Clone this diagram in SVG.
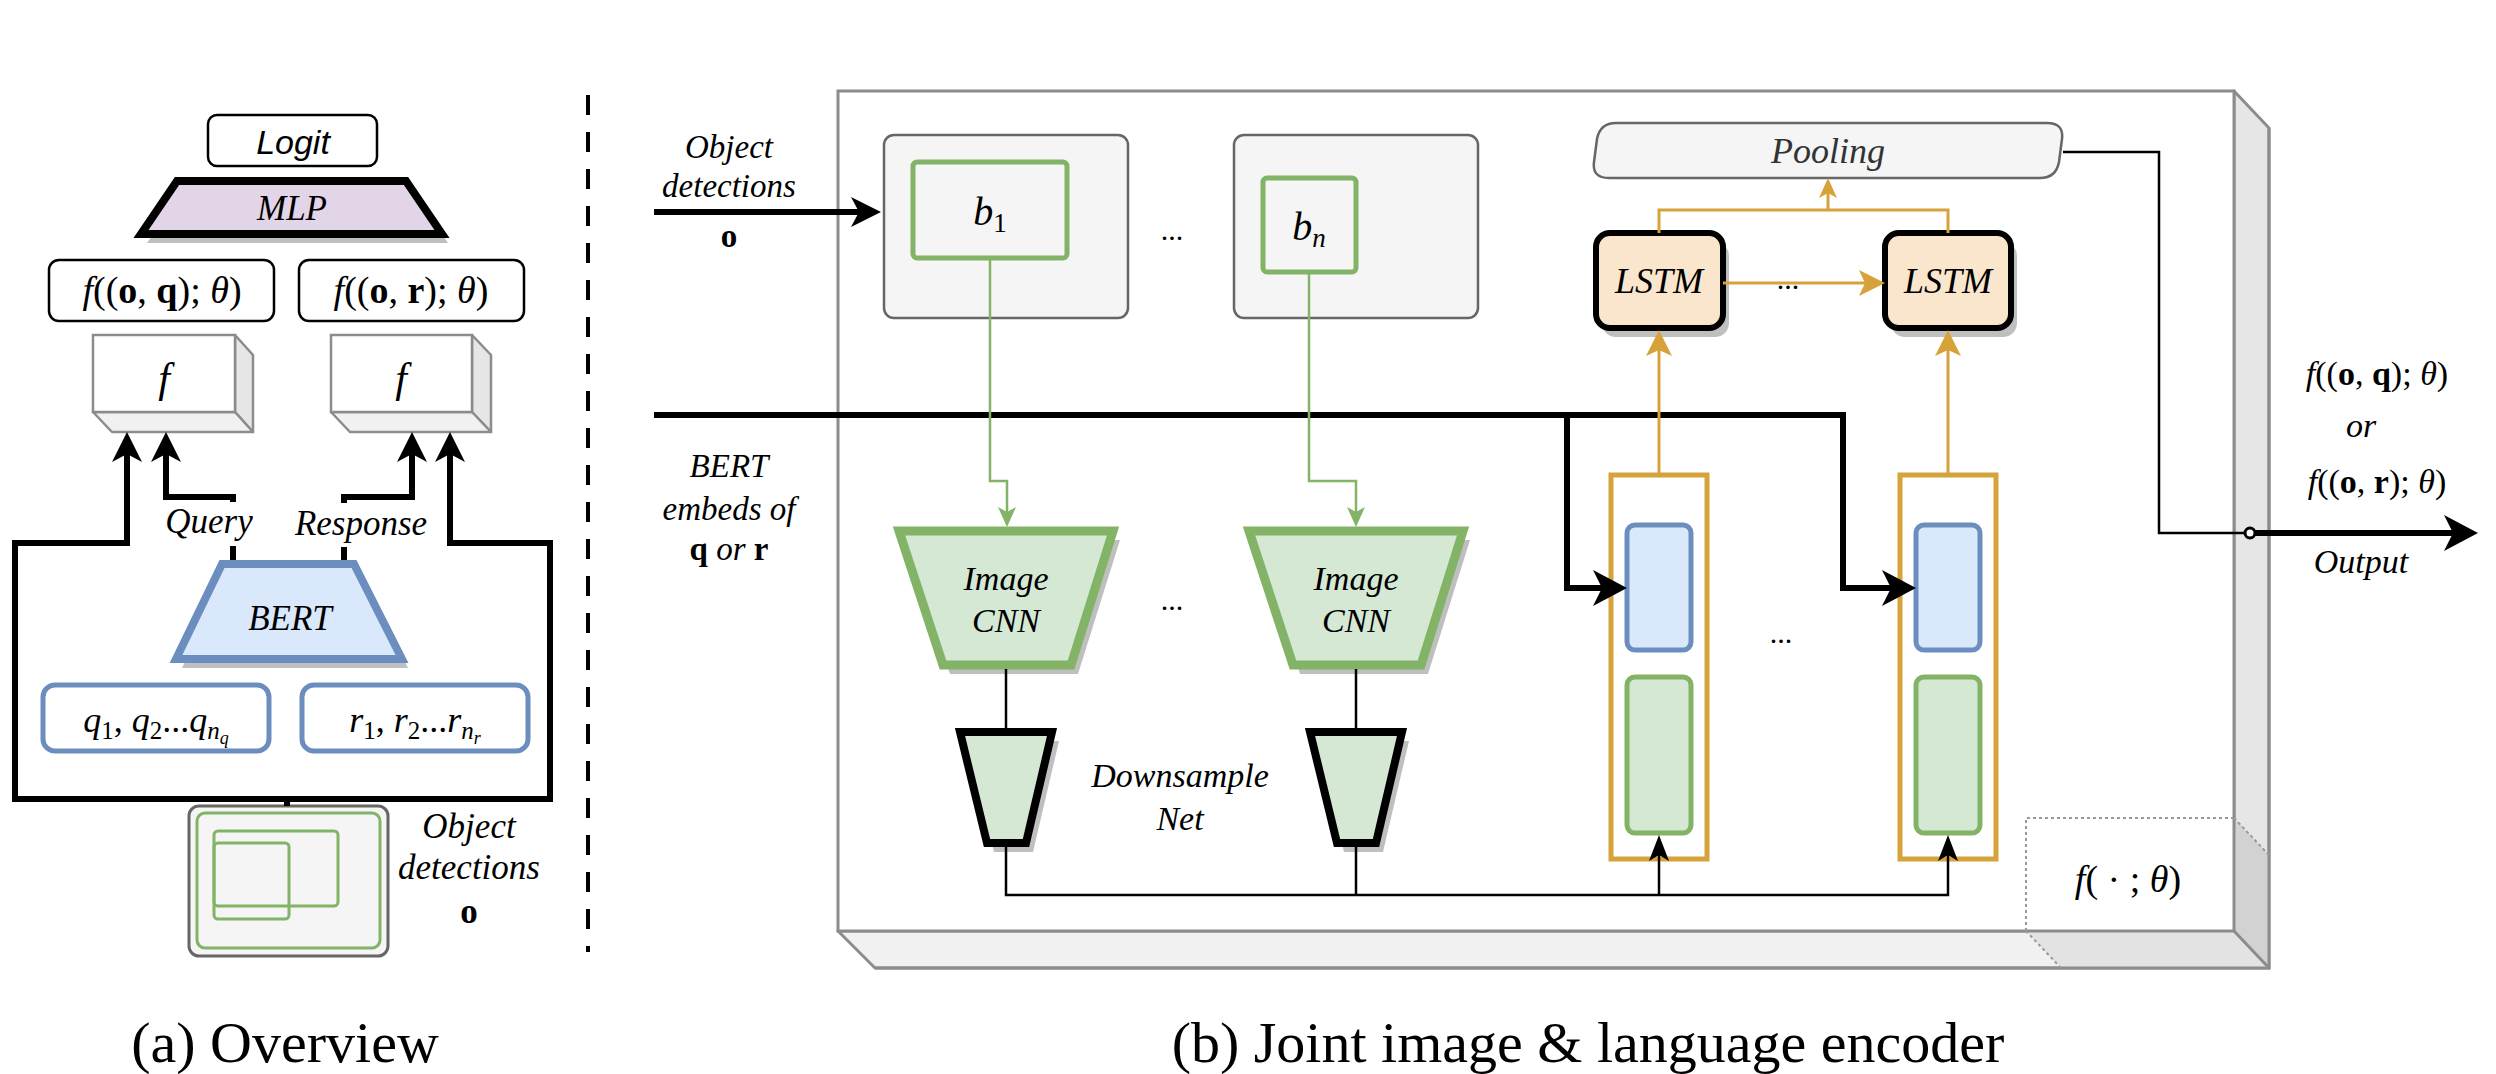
<svg xmlns="http://www.w3.org/2000/svg" width="2496" height="1074" viewBox="0 0 2496 1074">
<style>
.s{font-family:"Liberation Serif","Times New Roman",serif;fill:#000}
.m{text-anchor:middle}
.i{font-style:italic}
.b{font-weight:bold}
.sans{font-family:"Liberation Sans",Arial,sans-serif;font-style:italic;text-anchor:middle}
.box{fill:#fff;stroke:#000;stroke-width:2.5}
.cubeF{fill:#fff;stroke:#8c8c8c;stroke-width:2.5}
.cubeS{fill:#e6e6e6;stroke:#8c8c8c;stroke-width:2.5;stroke-linejoin:round}
.cubeB{fill:#f1f1f1;stroke:#8c8c8c;stroke-width:2.5;stroke-linejoin:round}
.shadow{fill:#bfbfbf}
.blue{fill:#dae8fc;stroke:#6c8ebf;stroke-width:5}
.green{fill:#d5e8d4;stroke:#82b366;stroke-width:5}
.gbox{fill:#f5f5f5;stroke:#666;stroke-width:2.5}
.thick{fill:none;stroke:#000;stroke-width:6}
.thin{fill:none;stroke:#000;stroke-width:2.5}
.or{fill:none;stroke:#d6a23a;stroke-width:3}
.gr{fill:none;stroke:#82b366;stroke-width:2.5}
</style>
<defs>
<marker id="mk" viewBox="0 0 30 30" markerUnits="userSpaceOnUse" markerWidth="30" markerHeight="30" refX="8" refY="15" orient="auto"><path d="M0,0 L30,15 L0,30 L8,15 Z" fill="#000"/></marker>
<marker id="mkL" viewBox="0 0 34 36" markerUnits="userSpaceOnUse" markerWidth="34" markerHeight="36" refX="9" refY="18" orient="auto"><path d="M0,0 L34,18 L0,36 L9,18 Z" fill="#000"/></marker>
<marker id="mt" viewBox="0 0 26 20" markerUnits="userSpaceOnUse" markerWidth="26" markerHeight="20" refX="6" refY="10" orient="auto"><path d="M0,0 L26,10 L0,20 L6,10 Z" fill="#000"/></marker>
<marker id="mo" viewBox="0 0 26 26" markerUnits="userSpaceOnUse" markerWidth="26" markerHeight="26" refX="6" refY="13" orient="auto"><path d="M0,0 L26,13 L0,26 L6,13 Z" fill="#d6a23a"/></marker>
<marker id="mos" viewBox="0 0 20 18" markerUnits="userSpaceOnUse" markerWidth="20" markerHeight="18" refX="5" refY="9" orient="auto"><path d="M0,0 L20,9 L0,18 L5,9 Z" fill="#d6a23a"/></marker>
<marker id="mg" viewBox="0 0 20 18" markerUnits="userSpaceOnUse" markerWidth="20" markerHeight="18" refX="5" refY="9" orient="auto"><path d="M0,0 L20,9 L0,18 L5,9 Z" fill="#82b366"/></marker>
</defs>
<rect width="2496" height="1074" fill="#fff"/>

<!-- ============ (a) Overview ============ -->
<g id="logit">
<rect class="box" x="208" y="115" width="169" height="51" rx="9"/>
<text class="sans" x="293" y="154" font-size="34">Logit</text>
</g>
<g id="mlp">
<polygon class="shadow" points="183,190 412,190 448,243 147,243"/>
<polygon points="177,181 406,181 442,234 141,234" fill="#e1d5e7" stroke="#000" stroke-width="8"/>
<text class="s m i" x="292" y="220" font-size="35">MLP</text>
</g>
<g id="f-oq">
<rect class="box" x="49" y="260" width="225" height="61" rx="10"/>
<text class="s m" x="162" y="303" font-size="38"><tspan class="i">f</tspan>((<tspan class="b">o</tspan>, <tspan class="b">q</tspan>); <tspan class="i">θ</tspan>)</text>
</g>
<g id="f-or">
<rect class="box" x="299" y="260" width="225" height="61" rx="10"/>
<text class="s m" x="411" y="303" font-size="38"><tspan class="i">f</tspan>((<tspan class="b">o</tspan>, <tspan class="b">r</tspan>); <tspan class="i">θ</tspan>)</text>
</g>
<g id="cube-f1">
<polygon class="cubeS" points="235,335 253,355 253,432 235,412"/>
<polygon class="cubeB" points="93,412 235,412 253,432 112,432"/>
<rect class="cubeF" x="93" y="335" width="142" height="77"/>
<text class="s m i" x="164" y="392" font-size="42">f</text>
</g>
<g id="cube-f2">
<polygon class="cubeS" points="472,335 491,355 491,432 472,412"/>
<polygon class="cubeB" points="331,412 472,412 491,432 350,432"/>
<rect class="cubeF" x="331" y="335" width="141" height="77"/>
<text class="s m i" x="401" y="392" font-size="42">f</text>
</g>
<g id="bert">
<polygon class="shadow" points="228,573 360,573 408,668 182,668"/>
<polygon points="222,564 354,564 402,659 176,659" fill="#dae8fc" stroke="#6c8ebf" stroke-width="8"/>
<text class="s m i" x="290" y="630" font-size="35">BERT</text>
</g>
<g id="q-tokens">
<rect x="43" y="685" width="226" height="66" rx="12" fill="#fff" stroke="#6c8ebf" stroke-width="5"/>
<text class="s m" x="156" y="732" font-size="36"><tspan class="i">q</tspan><tspan font-size="25" dy="7">1</tspan><tspan dy="-7">, </tspan><tspan class="i">q</tspan><tspan font-size="25" dy="7">2</tspan><tspan dy="-7">...</tspan><tspan class="i">q</tspan><tspan class="i" font-size="25" dy="7">n</tspan><tspan class="i" font-size="18" dy="5">q</tspan></text>
</g>
<g id="r-tokens">
<rect x="302" y="685" width="226" height="66" rx="12" fill="#fff" stroke="#6c8ebf" stroke-width="5"/>
<text class="s m" x="415" y="732" font-size="36"><tspan class="i">r</tspan><tspan font-size="25" dy="7">1</tspan><tspan dy="-7">, </tspan><tspan class="i">r</tspan><tspan font-size="25" dy="7">2</tspan><tspan dy="-7">...</tspan><tspan class="i">r</tspan><tspan class="i" font-size="25" dy="7">n</tspan><tspan class="i" font-size="18" dy="5">r</tspan></text>
</g>
<g id="objects-a">
<rect x="189" y="806" width="199" height="150" rx="10" fill="#f5f5f5" stroke="#666" stroke-width="3"/>
<rect x="197" y="813" width="183" height="135" rx="8" fill="none" stroke="#82b366" stroke-width="3"/>
<rect x="214" y="831" width="124" height="75" rx="4" fill="none" stroke="#82b366" stroke-width="3"/>
<rect x="214" y="843" width="75" height="76" rx="4" fill="none" stroke="#82b366" stroke-width="3"/>
<text class="s m" font-size="35"><tspan class="i" x="469" y="838">Object</tspan><tspan class="i" x="469" y="879">detections</tspan><tspan class="b" x="469" y="923">o</tspan></text>
</g>

<!-- separator -->
<line x1="588" y1="95" x2="588" y2="952" stroke="#000" stroke-width="4" stroke-dasharray="20 17"/>

<!-- ============ (b) encoder ============ -->
<g id="encoder-cube">
<polygon points="2234,91 2269,128 2269,968 2234,931" fill="#e6e6e6" stroke="#8c8c8c" stroke-width="3" stroke-linejoin="round"/>
<polygon points="838,931 2234,931 2269,968 875,968" fill="#f1f1f1" stroke="#8c8c8c" stroke-width="3" stroke-linejoin="round"/>
<polygon points="2234,818 2269,855 2269,968 2234,931" fill="#d2d2d2"/>
<polygon points="2026,931 2234,931 2269,968 2061,968" fill="#e3e3e3"/>
<polyline points="2234,931 2269,968" fill="none" stroke="#8c8c8c" stroke-width="3"/>
<polyline points="2269,128 2269,968 875,968" fill="none" stroke="#8c8c8c" stroke-width="3"/>
<rect x="838" y="91" width="1396" height="840" fill="#fff" stroke="#8c8c8c" stroke-width="3"/>
</g>
<g id="theta-cube">
<path d="M2026,931 V818 H2234 M2234,818 L2269,855 M2026,931 L2061,968" fill="none" stroke="#999" stroke-width="2" stroke-dasharray="3 3"/>
<text class="s m" x="2128" y="892" font-size="38"><tspan class="i">f</tspan>( · ; <tspan class="i">θ</tspan>)</text>
</g>

<g id="label-objects-b">
<text class="s m" font-size="33"><tspan class="i" x="729" y="158">Object</tspan><tspan class="i" x="729" y="197">detections</tspan><tspan class="b" x="729" y="247">o</tspan></text>
</g>
<g id="label-bert-b">
<text class="s m" font-size="33"><tspan class="i" x="729" y="477">BERT</tspan><tspan class="i" x="729" y="520">embeds of</tspan><tspan x="729" y="560"><tspan class="b">q</tspan>  <tspan class="i">or</tspan>  <tspan class="b">r</tspan></tspan></text>
</g>

<g id="box-b1">
<rect class="gbox" x="884" y="135" width="244" height="183" rx="10"/>
<rect x="913" y="162" width="154" height="96" rx="4" fill="#f5f5f5" stroke="#82b366" stroke-width="5"/>
<text class="s m" x="990" y="225" font-size="40"><tspan class="i">b</tspan><tspan font-size="27" dy="7">1</tspan></text>
</g>
<g id="box-bn">
<rect class="gbox" x="1234" y="135" width="244" height="183" rx="10"/>
<rect x="1263" y="178" width="93" height="94" rx="4" fill="#f5f5f5" stroke="#82b366" stroke-width="5"/>
<text class="s m" x="1309" y="240" font-size="40"><tspan class="i">b</tspan><tspan class="i" font-size="27" dy="7">n</tspan></text>
</g>
<text class="s m" x="1172" y="240" font-size="30">...</text>

<g id="cnn-1">
<polygon class="shadow" points="906,540 1120,540 1078,674 950,674"/>
<polygon points="899,531 1113,531 1071,665 943,665" fill="#d5e8d4" stroke="#82b366" stroke-width="9"/>
<text class="s m i" font-size="34"><tspan x="1006" y="590">Image</tspan><tspan x="1006" y="632">CNN</tspan></text>
</g>
<g id="cnn-n">
<polygon class="shadow" points="1256,540 1470,540 1428,674 1300,674"/>
<polygon points="1249,531 1463,531 1421,665 1293,665" fill="#d5e8d4" stroke="#82b366" stroke-width="9"/>
<text class="s m i" font-size="34"><tspan x="1356" y="590">Image</tspan><tspan x="1356" y="632">CNN</tspan></text>
</g>
<text class="s m" x="1172" y="610" font-size="30">...</text>

<g id="down-1">
<polygon class="shadow" points="967,741 1059,741 1033,852 994,852"/>
<polygon points="960,732 1052,732 1026,843 987,843" fill="#d5e8d4" stroke="#000" stroke-width="8"/>
</g>
<g id="down-n">
<polygon class="shadow" points="1317,741 1409,741 1383,852 1344,852"/>
<polygon points="1310,732 1402,732 1376,843 1337,843" fill="#d5e8d4" stroke="#000" stroke-width="8"/>
</g>
<text class="s m i" font-size="34"><tspan x="1180" y="787">Downsample</tspan><tspan x="1180" y="830">Net</tspan></text>

<g id="column-1">
<rect x="1611" y="475" width="96" height="384" fill="#fff" stroke="#d6a23a" stroke-width="5"/>
<rect class="blue" x="1627" y="525" width="64" height="125" rx="8"/>
<rect class="green" x="1627" y="677" width="64" height="156" rx="8"/>
</g>
<g id="column-n">
<rect x="1900" y="475" width="96" height="384" fill="#fff" stroke="#d6a23a" stroke-width="5"/>
<rect class="blue" x="1916" y="525" width="64" height="125" rx="8"/>
<rect class="green" x="1916" y="677" width="64" height="156" rx="8"/>
</g>
<text class="s m" x="1781" y="643" font-size="30">...</text>

<g id="lstm-1">
<rect class="shadow" x="1602" y="242" width="127" height="95" rx="14"/>
<rect x="1596" y="233" width="127" height="95" rx="14" fill="#fae5cd" stroke="#000" stroke-width="6"/>
<text class="s m i" x="1659" y="293" font-size="36">LSTM</text>
</g>
<g id="lstm-n">
<rect class="shadow" x="1891" y="242" width="126" height="95" rx="14"/>
<rect x="1885" y="233" width="126" height="95" rx="14" fill="#fae5cd" stroke="#000" stroke-width="6"/>
<text class="s m i" x="1948" y="293" font-size="36">LSTM</text>
</g>
<g id="pooling">
<path d="M1616,123 H2047 Q2064,123 2062,139 L2059,162 Q2056,178 2040,178 H1609 Q1592,178 1594,162 L1597,139 Q1600,123 1616,123 Z" fill="#f5f5f5" stroke="#666" stroke-width="2.5"/>
<text class="s m i" x="1828" y="163" font-size="36" fill="#333" style="fill:#333">Pooling</text>
</g>

<g id="output-label">
<text class="s m" font-size="34"><tspan x="2377" y="385"><tspan class="i">f</tspan>((<tspan class="b">o</tspan>, <tspan class="b">q</tspan>); <tspan class="i">θ</tspan>)</tspan><tspan class="i" x="2361" y="437">or</tspan><tspan x="2377" y="493"><tspan class="i">f</tspan>((<tspan class="b">o</tspan>, <tspan class="b">r</tspan>); <tspan class="i">θ</tspan>)</tspan><tspan class="i" x="2361" y="573">Output</tspan></text>
</g>

<!-- ============ connectors ============ -->
<g id="connectors">
<path class="thick" d="M287,806 V799 H15 V543 H127 V454" marker-end="url(#mk)"/>
<path class="thick" d="M287,799 H550 V543 H450 V454" marker-end="url(#mk)"/>
<path class="thick" d="M233,560 V497 H166 V454" marker-end="url(#mk)"/>
<path class="thick" d="M344,560 V497 H412 V454" marker-end="url(#mk)"/>
<rect x="166" y="502" width="88" height="44" fill="#fff"/>
<text class="s m i" x="209" y="533" font-size="35">Query</text>
<rect x="295" y="503" width="133" height="44" fill="#fff"/>
<text class="s m i" x="361" y="535" font-size="35">Response</text>

<path class="thick" d="M654,212 H859" marker-end="url(#mk)"/>
<path class="thick" d="M654,415 H1843 V588 H1891" marker-end="url(#mkL)"/>
<path class="thick" d="M1567,415 V588 H1602" marker-end="url(#mkL)"/>
<path class="gr" d="M990,258 V481 H1007 V512" marker-end="url(#mg)"/>
<path class="gr" d="M1309,272 V481 H1356 V512" marker-end="url(#mg)"/>
<path class="thin" d="M1006,669 V728"/>
<path class="thin" d="M1356,669 V728"/>
<path class="thin" d="M1006,847 V895 H1948 V855" marker-end="url(#mt)"/>
<path class="thin" d="M1356,847 V895"/>
<path class="thin" d="M1659,895 V855" marker-end="url(#mt)"/>
<path class="or" d="M1659,475 V350" marker-end="url(#mo)"/>
<path class="or" d="M1948,475 V350" marker-end="url(#mo)"/>
<path class="or" d="M1723,283 H1865" marker-end="url(#mo)"/>
<path class="or" d="M1659,233 V210 H1948 V233"/>
<path class="or" d="M1828,210 V193" marker-end="url(#mos)"/>
<path class="thin" d="M2063,152 H2159 V533 H2245"/>
<path class="thick" d="M2255,533 H2453" marker-end="url(#mkL)"/>
<circle cx="2250" cy="533" r="5" fill="#fff" stroke="#000" stroke-width="3"/>
</g>
<text class="s m" x="1788" y="289" font-size="30">...</text>

<text class="s m" x="285" y="1062" font-size="58">(a) Overview</text>
<text class="s m" x="1588" y="1062" font-size="58">(b) Joint image &amp; language encoder</text>
</svg>
